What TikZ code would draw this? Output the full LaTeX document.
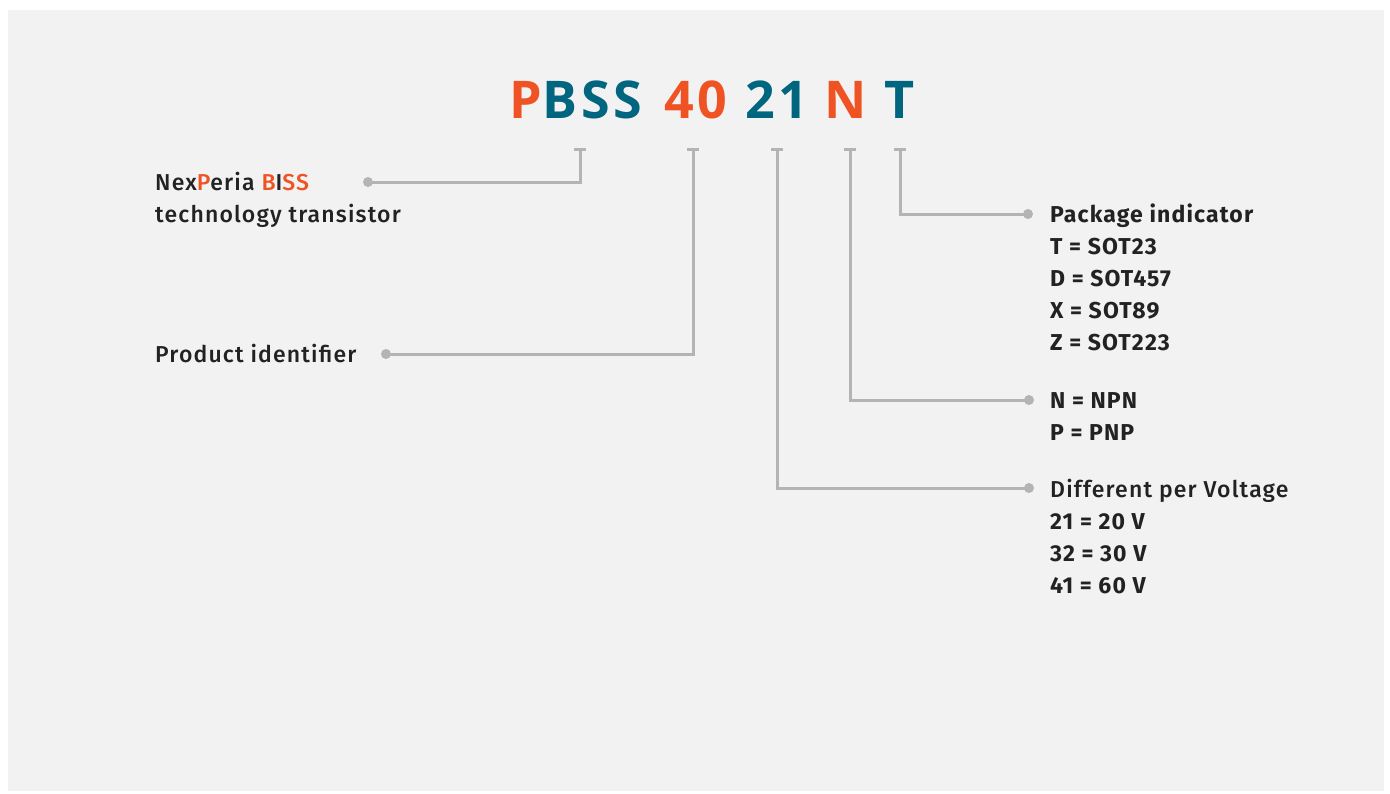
\documentclass[tikz,border=0pt]{standalone}
\usepackage{fontspec}
\setmainfont[LetterSpace=5]{Fira Sans}
\newfontfamily\medfont[LetterSpace=5]{Fira Sans Medium}
\newfontfamily\titlefont[LetterSpace=7]{Open Sans}
\definecolor{bgc}{HTML}{F2F2F2}
\definecolor{orng}{HTML}{EF5324}
\definecolor{teal}{HTML}{00657E}
\definecolor{linec}{HTML}{B4B4B6}
\definecolor{txt}{HTML}{222222}
\begin{document}
\begin{tikzpicture}[x=1pt,y=-1pt,
  conn/.style={draw=linec,line width=3pt},
  dotnode/.style={circle,fill=linec,inner sep=0pt,minimum size=10pt},
  lbl/.style={anchor=base west,inner sep=0pt,text=txt,font=\medfont\fontsize{23}{28}\selectfont},
  blbl/.style={lbl,font=\fontsize{23}{28}\selectfont\bfseries},
  ttl/.style={anchor=base,inner sep=0pt,font=\titlefont\fontsize{52}{60}\selectfont\bfseries}]
\useasboundingbox (0,0) rectangle (1390,793);
\fill[white] (0,0) rectangle (1390,793);
\fill[bgc] (8,10) rectangle (1384,791);
% title
\node[ttl] (pbss) at (576,118) {\color{orng}P\color{teal}BSS};
\node[ttl,text=orng] (n40) at (696,118) {40};
\node[ttl,text=teal] (n21) at (777,118) {21};
\node[ttl,text=orng] (nN) at (846,118) {N};
\node[ttl,text=teal] (nT) at (900,118) {T};
% tick tops
\coordinate (t1) at (580,149);
\coordinate (t2) at (693,149);
\coordinate (t3) at (777,149);
\coordinate (t4) at (850,149);
\coordinate (t5) at (900,149);
\foreach \t in {t1,t2,t3,t4,t5}{
  \draw[conn] ([xshift=-6pt]\t) -- ([xshift=6pt]\t);
}
% dots
\node[dotnode] (d1) at (368,182) {};
\node[dotnode] (d2) at (386,354) {};
\node[dotnode] (d3) at (1029,488) {};
\node[dotnode] (d4) at (1029,400) {};
\node[dotnode] (d5) at (1028,214) {};
\draw[conn] (t1) |- (d1.center);
\draw[conn] (t2) |- (d2.center);
\draw[conn] (t3) |- (d3.center);
\draw[conn] (t4) |- (d4.center);
\draw[conn] (t5) |- (d5.center);
% left labels
\node[lbl] (l1a) at (155,190) {Nex{\color{orng}P}eria {\color{orng}B}I{\color{orng}SS}};
\node[lbl] (l1b) at (155,222) {technology transistor};
\node[lbl] (l2) at (155,362) {Product identifier};
% right labels
\node[blbl] (p0) at (1050,222) {Package indicator};
\node[blbl] (p1) at (1050,254) {T = SOT23};
\node[blbl] (p2) at (1050,286) {D = SOT457};
\node[blbl] (p3) at (1050,318) {X = SOT89};
\node[blbl] (p4) at (1050,350) {Z = SOT223};
\node[blbl] (q1) at (1050,408) {N = NPN};
\node[blbl] (q2) at (1050,440) {P = PNP};
\node[lbl] (v0) at (1050,497) {Different per Voltage};
\node[blbl] (v1) at (1050,529) {21 = 20 V};
\node[blbl] (v2) at (1050,561) {32 = 30 V};
\node[blbl] (v3) at (1050,593) {41 = 60 V};
\end{tikzpicture}
\end{document}
